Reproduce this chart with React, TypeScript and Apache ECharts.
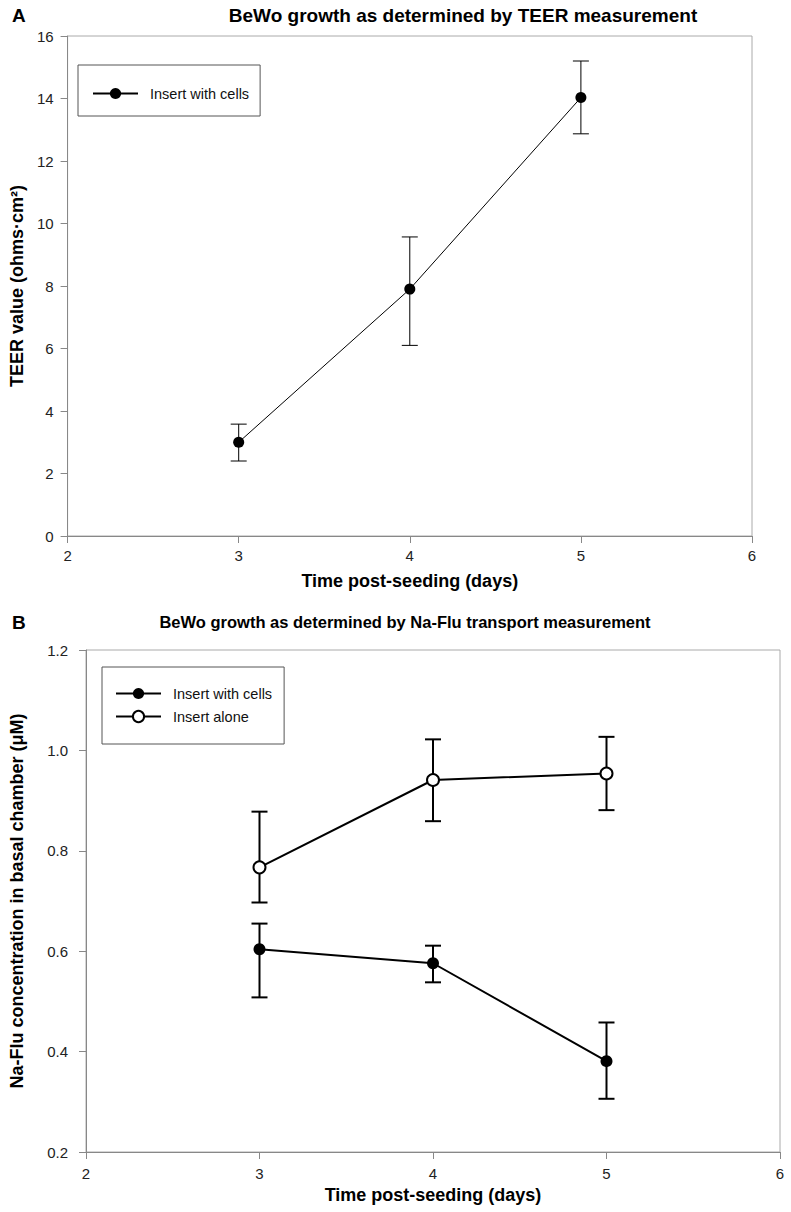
import React, { useEffect, useRef } from "react";
import * as echarts from "echarts";

const FONT = "'Liberation Sans', Arial, Helvetica, sans-serif";

// Panel A: TEER
const daysA = [3, 4, 5];
const teerMean = [3.0, 7.9, 14.03];
const teerLow = [2.4, 6.1, 12.87];
const teerHigh = [3.58, 9.57, 15.2];

// Panel B: Na-Flu transport
const daysB = [3, 4, 5];
const cellsMean = [0.604, 0.576, 0.381];
const cellsLow = [0.508, 0.538, 0.306];
const cellsHigh = [0.655, 0.611, 0.458];
const aloneMean = [0.767, 0.941, 0.954];
const aloneLow = [0.697, 0.859, 0.881];
const aloneHigh = [0.878, 1.022, 1.027];

const xTicks = { min: 2, max: 6, interval: 1 };
const yTicksA = { min: 0, max: 16, interval: 2 };
const yTicksB = { min: 0.2, max: 1.2, interval: 0.2 };

function errorSeries(name: string, days: number[], lo: number[], hi: number[], lw: number, cap: number) {
  return {
    type: "custom",
    name,
    z: 1,
    silent: true,
    encode: { x: 0, y: [1, 2] },
    data: days.map((d, i) => [d, lo[i], hi[i]]),
    renderItem: (params: any, api: any) => {
      const x = api.value(0);
      const top = api.coord([x, api.value(2)]);
      const bot = api.coord([x, api.value(1)]);
      const style = { stroke: "#000", lineWidth: lw };
      return {
        type: "group",
        children: [
          { type: "line", shape: { x1: top[0], y1: top[1], x2: bot[0], y2: bot[1] }, style },
          { type: "line", shape: { x1: top[0] - cap, y1: top[1], x2: top[0] + cap, y2: top[1] }, style },
          { type: "line", shape: { x1: bot[0] - cap, y1: bot[1], x2: bot[0] + cap, y2: bot[1] }, style },
        ],
      };
    },
  };
}

function xAxisCfg(name: string, nameGap: number, labelSize: number, margin: number) {
  return {
    type: "value",
    ...xTicks,
    name,
    nameLocation: "middle",
    nameGap,
    nameTextStyle: { fontFamily: FONT, fontWeight: "bold", fontSize: 18, color: "#000" },
    axisLine: { show: true, lineStyle: { color: "#888", width: 1 } },
    axisTick: { show: true, length: 7, lineStyle: { color: "#888" } },
    splitLine: { show: false },
    axisLabel: { margin, fontFamily: FONT, fontSize: labelSize, color: "#222" },
  };
}

function yAxisCfg(ticks: any, name: string, nameGap: number, labelSize: number, margin: number, fmt?: (v: number) => string) {
  return {
    type: "value",
    ...ticks,
    name,
    nameLocation: "middle",
    nameGap,
    nameTextStyle: { fontFamily: FONT, fontWeight: "bold", fontSize: 18, color: "#000" },
    axisLine: { show: true, lineStyle: { color: "#888", width: 1 } },
    axisTick: { show: true, length: 7, lineStyle: { color: "#888" } },
    splitLine: { show: false },
    axisLabel: { margin, fontFamily: FONT, fontSize: labelSize, color: "#222", formatter: fmt },
  };
}

function optionA() {
  return {
    animation: false,
    backgroundColor: "#fff",
    grid: { left: 58, top: 36, width: 694, height: 500, show: true, borderColor: "#aaa", borderWidth: 1 },
    xAxis: xAxisCfg("Time post-seeding (days)", 36, 15, 12),
    yAxis: yAxisCfg(yTicksA, "TEER value (ohms·cm²)", 32, 15, 14),
    legend: {
      left: 78,
      top: 65,
      orient: "vertical",
      padding: [21, 11, 15, 14],
      borderColor: "#555",
      borderWidth: 1,
      itemWidth: 45,
      itemHeight: 14,
      selectedMode: false,
      data: ["Insert with cells"],
      lineStyle: { width: 2 },
      textStyle: { fontFamily: FONT, fontSize: 14.5, color: "#111", padding: [0, 0, 0, 7] },
    },
    graphic: [
      { type: "text", x: 12, y: 15, style: { text: "A", font: `bold 19px ${FONT}`, fill: "#000", verticalAlign: "middle" } },
      {
        type: "text",
        x: 463,
        y: 15,
        style: { text: "BeWo growth as determined by TEER measurement", font: `bold 19px ${FONT}`, fill: "#000", align: "center", verticalAlign: "middle" },
      },
    ],
    series: [
      errorSeries("TEER SD", daysA, teerLow, teerHigh, 1, 8),
      {
        type: "line",
        name: "Insert with cells",
        z: 3,
        data: daysA.map((d, i) => [d, teerMean[i]]),
        symbol: "circle",
        symbolSize: 11,
        itemStyle: { color: "#000" },
        lineStyle: { color: "#000", width: 1 },
      },
    ],
  };
}

function optionB() {
  return {
    animation: false,
    backgroundColor: "#fff",
    grid: { left: 86, top: 50, width: 694, height: 502, show: true, borderColor: "#aaa", borderWidth: 1 },
    xAxis: xAxisCfg("Time post-seeding (days)", 34, 15, 14),
    yAxis: yAxisCfg(yTicksB, "Na-Flu concentration in basal chamber (μM)", 60, 15, 18, (v: number) => v.toFixed(1)),
    legend: {
      left: 102,
      top: 67,
      orient: "vertical",
      padding: [19, 12, 20, 13],
      borderColor: "#555",
      borderWidth: 1,
      itemWidth: 45,
      itemHeight: 14,
      itemGap: 8,
      selectedMode: false,
      data: ["Insert with cells", "Insert alone"],
      textStyle: { fontFamily: FONT, fontSize: 14.5, color: "#111", padding: [0, 0, 0, 7] },
    },
    graphic: [
      { type: "text", x: 12, y: 22, style: { text: "B", font: `bold 19px ${FONT}`, fill: "#000", verticalAlign: "middle" } },
      {
        type: "text",
        x: 405,
        y: 22,
        style: { text: "BeWo growth as determined by Na-Flu transport measurement", font: `bold 16.5px ${FONT}`, fill: "#000", align: "center", verticalAlign: "middle" },
      },
    ],
    series: [
      errorSeries("cells SD", daysB, cellsLow, cellsHigh, 2, 8),
      errorSeries("alone SD", daysB, aloneLow, aloneHigh, 2, 8),
      {
        type: "line",
        name: "Insert with cells",
        z: 3,
        data: daysB.map((d, i) => [d, cellsMean[i]]),
        symbol: "circle",
        symbolSize: 12,
        itemStyle: { color: "#000" },
        lineStyle: { color: "#000", width: 2 },
      },
      {
        type: "line",
        name: "Insert alone",
        z: 3,
        data: daysB.map((d, i) => [d, aloneMean[i]]),
        symbol: "circle",
        symbolSize: 12,
        itemStyle: { color: "#fff", borderColor: "#000", borderWidth: 2 },
        lineStyle: { color: "#000", width: 2 },
      },
    ],
  };
}

export default function App() {
  const refA = useRef<HTMLDivElement>(null);
  const refB = useRef<HTMLDivElement>(null);
  useEffect(() => {
    const a = echarts.init(refA.current!, null, { renderer: "svg" });
    const b = echarts.init(refB.current!, null, { renderer: "svg" });
    a.setOption(optionA() as any);
    b.setOption(optionB() as any);
    return () => {
      a.dispose();
      b.dispose();
    };
  }, []);
  return (
    <div style={{ position: "absolute", left: 0, top: 0, width: 791, height: 1212, background: "#fff" }}>
      <div ref={refA} style={{ position: "absolute", left: 0, top: 0, width: 791, height: 600 }} />
      <div ref={refB} style={{ position: "absolute", left: 0, top: 600, width: 791, height: 612 }} />
    </div>
  );
}
